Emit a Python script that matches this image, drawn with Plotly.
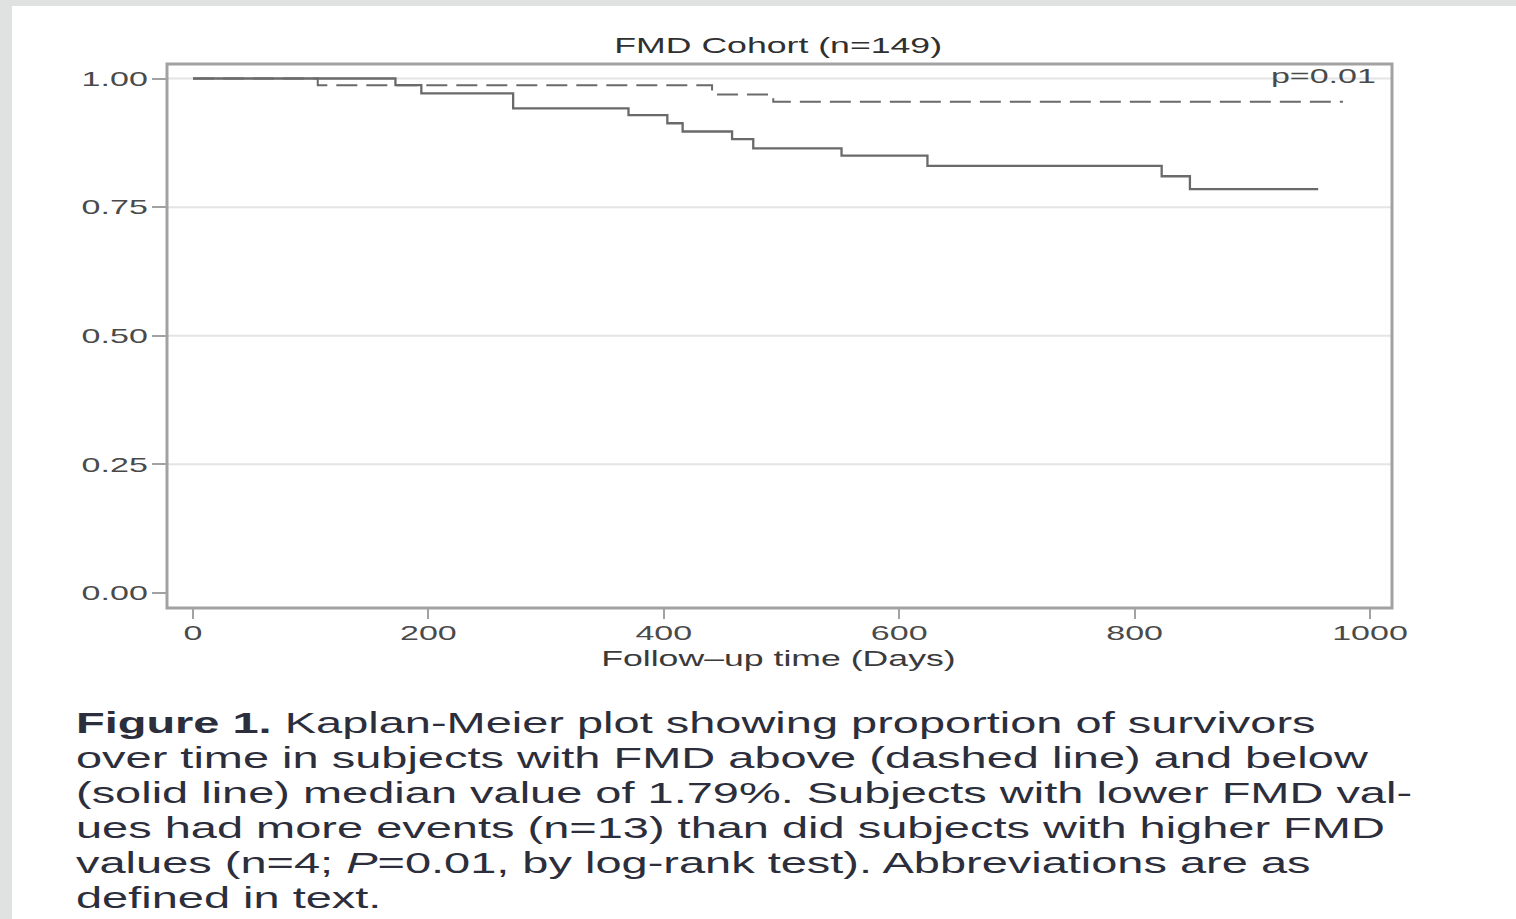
import plotly.graph_objects as go

# Kaplan-Meier estimates: follow-up day at which each level starts, and survival level
low_fmd_days = [0, 172, 194, 272, 370, 403, 416, 458, 476, 551, 624, 823, 847, 956]
low_fmd_surv = [1.000, 0.987, 0.971, 0.942, 0.929, 0.913, 0.897, 0.882, 0.864, 0.850, 0.830, 0.810, 0.785, 0.785]

high_fmd_days = [0, 106, 441, 493, 977]
high_fmd_surv = [1.000, 0.987, 0.969, 0.955, 0.955]

x_ticks = [0, 200, 400, 600, 800, 1000]
y_ticks = [0.00, 0.25, 0.50, 0.75, 1.00]
y_tick_text = ["0.00", "0.25", "0.50", "0.75", "1.00"]
grid_levels = [0.25, 0.50, 0.75, 1.00]

title_text = "FMD Cohort (n=149)"
x_title_text = "Follow–up time (Days)"
p_text = "p=0.01"
caption_lines = [
    "<b>Figure 1.</b> Kaplan-Meier plot showing proportion of survivors",
    "over time in subjects with FMD above (dashed line) and below",
    "(solid line) median value of 1.79%. Subjects with lower FMD val-",
    "ues had more events (n=13) than did subjects with higher FMD",
    "values (n=4; <i>P</i>=0.01, by log-rank test). Abbreviations are as",
    "defined in text.",
]

W, H = 1516, 919
L, R, T, B = 167, 1392, 64, 608   # plot box in pixels


def xp(px):
    return (px - L) / (R - L)


def yp(py):
    return (B - py) / (B - T)


FONT = "Liberation Sans, Arial, sans-serif"
LINE_GRAY = "#6a6a6a"
FRAME_GRAY = "#a2a2a2"

fig = go.Figure()
fig.add_trace(go.Scatter(
    x=high_fmd_days, y=high_fmd_surv, mode="lines", line_shape="hv",
    line=dict(color=LINE_GRAY, width=2, dash="21px,9px"), hoverinfo="skip",
))
fig.add_trace(go.Scatter(
    x=low_fmd_days, y=low_fmd_surv, mode="lines", line_shape="hv",
    line=dict(color=LINE_GRAY, width=2.3), hoverinfo="skip",
))

shapes = [
    # white page panel over the grey surround
    dict(type="rect", xref="paper", yref="paper", x0=xp(12), x1=xp(W + 5),
         y0=yp(H + 5), y1=yp(6), fillcolor="white", line_width=0, layer="below"),
]
for g in grid_levels:
    shapes.append(dict(type="line", xref="paper", yref="y", x0=0, x1=1, y0=g, y1=g,
                       line=dict(color="#e4e4e4", width=2), layer="below"))
shapes.append(dict(type="rect", xref="paper", yref="paper", x0=0, x1=1, y0=0, y1=1,
                   line=dict(color=FRAME_GRAY, width=3), layer="above"))

annotations = [
    dict(text=title_text, xref="paper", yref="paper", x=xp(778), y=yp(45),
         xanchor="center", yanchor="middle", showarrow=False,
         font=dict(family=FONT, size=22, color="#303030")),
    dict(text=x_title_text, xref="paper", yref="paper", x=xp(778), y=yp(658),
         xanchor="center", yanchor="middle", showarrow=False,
         font=dict(family=FONT, size=22, color="#3a3a3a")),
    dict(text=p_text, xref="paper", yref="paper", x=xp(1378), y=yp(75),
         xanchor="right", yanchor="middle", align="right", showarrow=False,
         font=dict(family=FONT, size=21, color="#4a4a4a")),
]
for i, line in enumerate(caption_lines):
    annotations.append(dict(
        text=line, xref="paper", yref="paper", x=xp(74), y=yp(723 + 35 * i),
        xanchor="left", yanchor="middle", align="left", showarrow=False,
        font=dict(family=FONT, size=29, color="#2c2e3c"),
    ))

fig.update_layout(
    width=W, height=H, autosize=False,
    margin=dict(l=L, r=W - R, t=T, b=H - B, pad=0),
    paper_bgcolor="#e0e2e2", plot_bgcolor="rgba(0,0,0,0)",
    showlegend=False,
    shapes=shapes, annotations=annotations,
    xaxis=dict(range=[(L - 193) / 1.177, (R - 193) / 1.177], tickvals=x_ticks,
               ticks="outside", ticklen=10, tickwidth=2, tickcolor=FRAME_GRAY,
               ticklabelstandoff=-4,
               showgrid=False, zeroline=False, showline=False,
               tickfont=dict(family=FONT, size=21, color="#4a4a4a")),
    yaxis=dict(range=[-(B - 593) / 514.5, 1 + (78.5 - T) / 514.5], tickvals=y_ticks,
               ticktext=y_tick_text, ticks="outside", ticklen=14, tickwidth=2,
               tickcolor=FRAME_GRAY, showgrid=False, zeroline=False, showline=False,
               tickfont=dict(family=FONT, size=21, color="#4a4a4a")),
)

# widen every text run horizontally about its anchor point
stretch_js = """
var gd = document.getElementById('{plot_id}');
var s = 1.62;
gd.querySelectorAll('svg text').forEach(function (t) {
  if (!t.textContent.trim()) return;
  var bb = t.getBBox();
  var a = t.getAttribute('text-anchor') || getComputedStyle(t).textAnchor;
  var ax = a === 'middle' ? bb.x + bb.width / 2 : (a === 'end' ? bb.x + bb.width : bb.x);
  var prev = t.getAttribute('transform') || '';
  t.setAttribute('transform', prev + ' translate(' + ax + ',0) scale(' + s + ',1) translate(' + (-ax) + ',0)');
});
"""

fig.write_html("out.html", config={"displayModeBar": False, "staticPlot": True},
               post_script=stretch_js)
